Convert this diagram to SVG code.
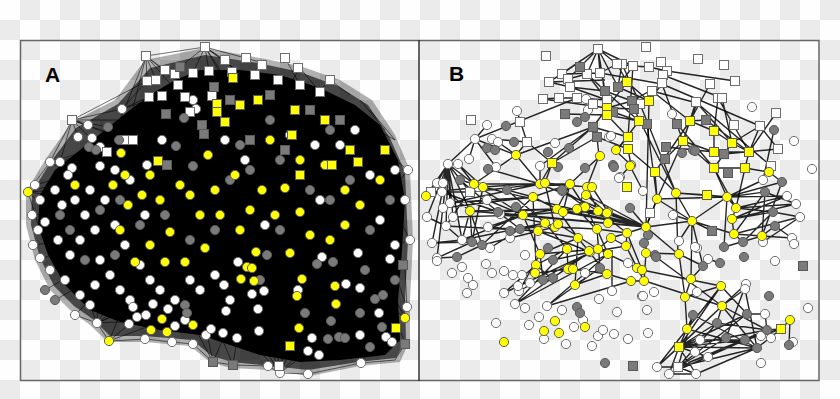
<svg xmlns="http://www.w3.org/2000/svg" width="840" height="399" viewBox="0 0 840 399">
<defs>
<pattern id="cb" width="40" height="40" patternUnits="userSpaceOnUse"><rect width="40" height="40" fill="#fefefe"/><rect x="20" width="20" height="20" fill="#ebebeb"/><rect y="20" width="20" height="20" fill="#ebebeb"/></pattern>
<style>
circle{r:4.6px;stroke-width:1}
rect.n{width:9px;height:9px;transform:translate(-4.5px,-4.5px);stroke-width:1}
.w{fill:#fff;stroke:#6e6e6e}
.g{fill:#7a7a7a;stroke:#595959}
.y{fill:#ffff00;stroke:#5e5e5e}
.ea{fill:none;stroke:#000;stroke-width:0.8;stroke-opacity:0.7}
.eb{fill:none;stroke:#000;stroke-width:1.4;stroke-opacity:0.85}
.lbl{font-family:"Liberation Sans",Arial,sans-serif;font-weight:bold;font-size:21px;fill:#000}
</style>
</defs>
<rect width="840" height="399" fill="url(#cb)"/>
<g id="frame">
<rect x="20.5" y="40.5" width="798.5" height="340" fill="none" stroke="#666" stroke-width="1.5"/>
<line x1="419" y1="40" x2="419" y2="381" stroke="#333" stroke-width="1.5"/>
</g>
<g id="panel-a">
<text class="lbl" x="45" y="82">A</text>
<g id="a-connectors">
<path d="M26,192 L45,160 L72,122 L115,100 L145,60 L205,48 L260,58 L300,66 L340,80 L372,100 L395,135 L410,170 L413,240 L410,300 L410,340 L400,362 L360,366 L310,376 L270,370 L230,368 L210,362 L190,346 L145,342 L108,342 L90,325 L70,310 L50,290 L35,260 L26,225 Z" fill="#000" fill-opacity="0.3"/>
<path d="M32,192 L50,163 L76,128 L118,104 L150,68 L205,55 L258,63 L300,72 L338,86 L368,105 L390,138 L405,172 L408,240 L405,300 L406,340 L396,358 L358,362 L308,370 L272,366 L232,362 L212,356 L192,340 L145,336 L110,336 L94,320 L74,306 L54,286 L40,258 L31,225 Z" fill="#000" fill-opacity="0.6"/>
<path d="M40,195 L55,170 L80,150 L105,130 L130,110 L150,95 L175,80 L200,70 L240,70 L280,75 L320,88 L355,105 L380,125 L398,160 L405,200 L402,250 L398,300 L400,340 L385,355 L340,360 L300,362 L260,355 L230,345 L200,335 L160,330 L120,322 L90,310 L65,285 L48,255 L38,225 Z" fill="#000"/>
<path class="ea" d="M146,56L165,70M146,56L156,80M146,56L147,81M146,56L180,95M146,56L200,100M146,56L205,47M146,56L125,140M146,56L107,152M205,47L180,67M205,47L193,73M205,47L209,71M205,47L230,90M205,47L250,80M205,47L225,60M205,47L260,62M205,47L240,100M205,47L270,95M72,120L122,109M72,120L88,125M72,120L78,137M72,120L100,147M72,120L130,140M72,120L147,81M72,120L108,127M72,120L50,162M72,120L60,162M72,120L125,140M72,120L160,120M122,109L147,81M122,109L149,97M122,109L162,96M28,192L50,162M28,192L60,190M28,192L40,230M28,192L70,180M28,192L90,200M28,192L80,240M97,323L130,300M97,323L120,290M97,323L150,300M97,323L75,315M97,323L109,341M97,323L133,307M97,323L160,320M97,323L100,260M97,323L80,280M109,341L145,339M109,341L140,315M109,341L165,320M109,341L130,290M145,339L172,342M172,342L193,344M193,344L213,362M213,362L233,365M213,362L200,300M213,362L180,300M213,362L240,300M233,365L268,366M233,365L240,320M233,365L210,310M268,366L280,373M280,373L308,374M280,373L260,320M280,373L300,330M280,373L330,320M280,373L290,310M280,373L240,310M280,373L350,320M280,373L230,320M279,366L320,300M279,366L270,300M308,374L361,363M361,363L395,360M361,363L380,330M361,363L340,320M405,344L395,360M405,344L390,300M405,344L360,320M405,318L370,290M405,318L380,270M407,307L390,260M407,307L405,270M403,265L390,240M403,265L380,280M410,240L390,200M410,240L380,250M405,200L385,170M405,200L380,220M408,170L370,140M408,170L385,200M395,140L360,120M395,140L370,110M330,80L350,95M330,80L300,110M300,68L320,92M300,68L280,100M262,65L240,100M285,58L300,85M360,100L385,130M50,162L90,150M50,162L80,180M60,162L100,147M35,185L70,175M32,215L70,210M33,245L70,240M40,258L80,250M50,270L90,260M45,290L80,270M55,300L90,280M75,315L100,290M223,333L260,300M237,338L250,300M312,338L330,300M386,337L370,300M392,342L360,300"/>
</g>
<g id="a-nodes">
<circle class="w" cx="122" cy="109"/><circle class="w" cx="88" cy="125"/><circle class="w" cx="78" cy="137"/><circle class="w" cx="92" cy="138"/><circle class="w" cx="50" cy="162"/><circle class="w" cx="60" cy="162"/><circle class="w" cx="72" cy="168"/><circle class="w" cx="68" cy="175"/><circle class="w" cx="100" cy="147"/><circle class="w" cx="162" cy="140"/><circle class="w" cx="147" cy="165"/><circle class="w" cx="100" cy="166"/><circle class="w" cx="193" cy="100"/><circle class="w" cx="196" cy="109"/>
<circle class="w" cx="35" cy="185"/><circle class="w" cx="40" cy="200"/><circle class="w" cx="32" cy="215"/><circle class="w" cx="38" cy="230"/><circle class="w" cx="33" cy="245"/><circle class="w" cx="40" cy="258"/><circle class="w" cx="50" cy="270"/><circle class="w" cx="45" cy="222"/><circle class="w" cx="55" cy="190"/><circle class="w" cx="62" cy="205"/><circle class="w" cx="58" cy="240"/><circle class="w" cx="70" cy="255"/><circle class="w" cx="65" cy="280"/><circle class="w" cx="80" cy="295"/><circle class="w" cx="90" cy="305"/><circle class="w" cx="75" cy="315"/><circle class="w" cx="85" cy="215"/><circle class="w" cx="95" cy="230"/><circle class="w" cx="80" cy="240"/><circle class="w" cx="100" cy="260"/><circle class="w" cx="110" cy="275"/><circle class="w" cx="95" cy="285"/><circle class="w" cx="120" cy="290"/><circle class="w" cx="130" cy="300"/><circle class="w" cx="115" cy="225"/><circle class="w" cx="125" cy="245"/><circle class="w" cx="140" cy="265"/><circle class="w" cx="150" cy="280"/><circle class="w" cx="105" cy="200"/><circle class="w" cx="90" cy="190"/><circle class="w" cx="75" cy="200"/><circle class="w" cx="130" cy="180"/><circle class="w" cx="115" cy="170"/><circle class="w" cx="145" cy="215"/><circle class="w" cx="160" cy="290"/><circle class="w" cx="175" cy="300"/><circle class="w" cx="200" cy="290"/><circle class="w" cx="215" cy="275"/><circle class="w" cx="190" cy="280"/><circle class="w" cx="230" cy="300"/>
<circle class="w" cx="97" cy="323"/><circle class="w" cx="129" cy="324"/><circle class="w" cx="145" cy="339"/><circle class="w" cx="172" cy="342"/><circle class="w" cx="193" cy="344"/><circle class="w" cx="206" cy="335"/><circle class="w" cx="211" cy="329"/><circle class="w" cx="133" cy="307"/><circle class="w" cx="153" cy="304"/><circle class="w" cx="168" cy="309"/><circle class="w" cx="185" cy="320"/><circle class="w" cx="137" cy="317"/><circle class="w" cx="146" cy="315"/><circle class="w" cx="175" cy="326"/><circle class="w" cx="238" cy="262"/><circle class="w" cx="322" cy="257"/><circle class="w" cx="358" cy="253"/><circle class="w" cx="390" cy="259"/><circle class="w" cx="224" cy="285"/><circle class="w" cx="252" cy="294"/><circle class="w" cx="264" cy="291"/><circle class="w" cx="298" cy="290"/><circle class="w" cx="346" cy="284"/><circle class="w" cx="360" cy="288"/><circle class="w" cx="226" cy="311"/><circle class="w" cx="258" cy="309"/><circle class="w" cx="379" cy="313"/><circle class="w" cx="407" cy="307"/><circle class="w" cx="223" cy="333"/><circle class="w" cx="259" cy="331"/><circle class="w" cx="237" cy="338"/><circle class="w" cx="312" cy="338"/><circle class="w" cx="360" cy="335"/><circle class="w" cx="386" cy="337"/><circle class="w" cx="392" cy="342"/><circle class="w" cx="308" cy="351"/><circle class="w" cx="268" cy="366"/><circle class="w" cx="280" cy="373"/><circle class="w" cx="308" cy="374"/><circle class="w" cx="319" cy="355"/><circle class="w" cx="361" cy="363"/>
<circle class="w" cx="290" cy="135"/><circle class="w" cx="315" cy="145"/><circle class="w" cx="395" cy="170"/><circle class="w" cx="408" cy="170"/><circle class="w" cx="405" cy="200"/><circle class="w" cx="410" cy="240"/><circle class="w" cx="395" cy="245"/><circle class="w" cx="380" cy="220"/><circle class="w" cx="370" cy="175"/><circle class="w" cx="340" cy="145"/><circle class="w" cx="355" cy="130"/><circle class="w" cx="245" cy="160"/><circle class="w" cx="225" cy="140"/><circle class="w" cx="265" cy="225"/><circle class="w" cx="320" cy="200"/>
<rect class="n w" x="146" y="56"/><rect class="n w" x="147" y="81"/><rect class="n w" x="156" y="80"/><rect class="n w" x="165" y="70"/><rect class="n w" x="175" y="74"/><rect class="n w" x="178" y="85"/><rect class="n w" x="162" y="96"/><rect class="n w" x="185" y="97"/><rect class="n w" x="149" y="97"/><rect class="n w" x="125" y="140"/><rect class="n w" x="133" y="140"/><rect class="n w" x="107" y="152"/><rect class="n w" x="193" y="73"/><rect class="n w" x="209" y="71"/><rect class="n w" x="205" y="47"/><rect class="n w" x="72" y="120"/><rect class="n w" x="225" y="60"/><rect class="n w" x="246" y="58"/><rect class="n w" x="262" y="65"/><rect class="n w" x="285" y="58"/><rect class="n w" x="298" y="68"/><rect class="n w" x="232" y="72"/><rect class="n w" x="255" y="75"/><rect class="n w" x="278" y="80"/><rect class="n w" x="300" y="85"/><rect class="n w" x="320" y="92"/><rect class="n w" x="212" y="96"/><rect class="n w" x="190" y="112"/><rect class="n w" x="279" y="366"/><rect class="n w" x="330" y="80"/>
<circle class="g" cx="108" cy="127"/><circle class="g" cx="119" cy="140"/><circle class="g" cx="89" cy="147"/><circle class="g" cx="96" cy="150"/><circle class="g" cx="184" cy="118"/><circle class="g" cx="176" cy="146"/><circle class="g" cx="193" cy="166"/><circle class="g" cx="267" cy="255"/><circle class="g" cx="317" cy="264"/><circle class="g" cx="333" cy="262"/><circle class="g" cx="383" cy="295"/><circle class="g" cx="375" cy="299"/><circle class="g" cx="305" cy="313"/><circle class="g" cx="331" cy="321"/><circle class="g" cx="360" cy="313"/><circle class="g" cx="339" cy="337"/><circle class="g" cx="345" cy="338"/><circle class="g" cx="328" cy="339"/><circle class="g" cx="370" cy="347"/><circle class="g" cx="382" cy="327"/><circle class="g" cx="185" cy="305"/><circle class="g" cx="187" cy="313"/><circle class="g" cx="60" cy="215"/><circle class="g" cx="85" cy="260"/><circle class="g" cx="115" cy="255"/><circle class="g" cx="70" cy="230"/><circle class="g" cx="140" cy="225"/><circle class="g" cx="165" cy="215"/><circle class="g" cx="230" cy="180"/><circle class="g" cx="250" cy="170"/><circle class="g" cx="280" cy="160"/><circle class="g" cx="310" cy="190"/><circle class="g" cx="330" cy="200"/><circle class="g" cx="350" cy="180"/><circle class="g" cx="370" cy="230"/><circle class="g" cx="390" cy="200"/><circle class="g" cx="365" cy="270"/><circle class="g" cx="280" cy="230"/><circle class="g" cx="260" cy="280"/><circle class="g" cx="215" cy="230"/><circle class="g" cx="190" cy="240"/><circle class="g" cx="120" cy="200"/><circle class="g" cx="45" cy="290"/><circle class="g" cx="55" cy="300"/><circle class="g" cx="100" cy="210"/><circle class="g" cx="395" cy="280"/><circle class="g" cx="330" cy="130"/><circle class="g" cx="270" cy="120"/><circle class="g" cx="240" cy="145"/>
<rect class="n g" x="180" y="67"/><rect class="n g" x="214" y="87"/><rect class="n g" x="166" y="114"/><rect class="n g" x="202" y="125"/><rect class="n g" x="204" y="134"/><rect class="n g" x="167" y="165"/><rect class="n g" x="403" y="265"/><rect class="n g" x="233" y="365"/><rect class="n g" x="213" y="362"/><rect class="n g" x="405" y="344"/><rect class="n g" x="230" y="100"/><rect class="n g" x="270" y="95"/><rect class="n g" x="310" y="110"/><rect class="n g" x="340" y="120"/><rect class="n g" x="250" y="140"/><rect class="n g" x="285" y="150"/>
<circle class="y" cx="121" cy="153"/><circle class="y" cx="208" cy="155"/><circle class="y" cx="256" cy="252"/><circle class="y" cx="290" cy="253"/><circle class="y" cx="247" cy="267"/><circle class="y" cx="252" cy="268"/><circle class="y" cx="241" cy="279"/><circle class="y" cx="254" cy="281"/><circle class="y" cx="302" cy="279"/><circle class="y" cx="335" cy="286"/><circle class="y" cx="297" cy="296"/><circle class="y" cx="336" cy="304"/><circle class="y" cx="299" cy="328"/><circle class="y" cx="405" cy="318"/><circle class="y" cx="109" cy="341"/><circle class="y" cx="151" cy="330"/><circle class="y" cx="162" cy="319"/><circle class="y" cx="167" cy="332"/><circle class="y" cx="193" cy="325"/><circle class="y" cx="28" cy="192"/><circle class="y" cx="113" cy="185"/><circle class="y" cx="128" cy="205"/><circle class="y" cx="150" cy="175"/><circle class="y" cx="180" cy="185"/><circle class="y" cx="190" cy="195"/><circle class="y" cx="200" cy="215"/><circle class="y" cx="220" cy="215"/><circle class="y" cx="170" cy="232"/><circle class="y" cx="150" cy="245"/><circle class="y" cx="165" cy="262"/><circle class="y" cx="185" cy="262"/><circle class="y" cx="205" cy="248"/><circle class="y" cx="240" cy="230"/><circle class="y" cx="250" cy="210"/><circle class="y" cx="262" cy="190"/><circle class="y" cx="285" cy="188"/><circle class="y" cx="300" cy="212"/><circle class="y" cx="310" cy="235"/><circle class="y" cx="330" cy="240"/><circle class="y" cx="345" cy="225"/><circle class="y" cx="360" cy="205"/><circle class="y" cx="325" cy="165"/><circle class="y" cx="235" cy="175"/><circle class="y" cx="120" cy="230"/><circle class="y" cx="142" cy="195"/><circle class="y" cx="215" cy="190"/><circle class="y" cx="275" cy="215"/><circle class="y" cx="160" cy="200"/><circle class="y" cx="135" cy="262"/><circle class="y" cx="270" cy="140"/><circle class="y" cx="300" cy="160"/><circle class="y" cx="345" cy="190"/><circle class="y" cx="380" cy="180"/><circle class="y" cx="75" cy="185"/><circle class="y" cx="125" cy="175"/>
<rect class="n y" x="158" y="161"/><rect class="n y" x="217" y="104"/><rect class="n y" x="217" y="112"/><rect class="n y" x="290" y="346"/><rect class="n y" x="396" y="328"/><rect class="n y" x="233" y="78"/><rect class="n y" x="258" y="100"/><rect class="n y" x="240" y="105"/><rect class="n y" x="225" y="122"/><rect class="n y" x="295" y="110"/><rect class="n y" x="325" y="120"/><rect class="n y" x="350" y="150"/><rect class="n y" x="358" y="162"/><rect class="n y" x="332" y="165"/><rect class="n y" x="300" y="175"/><rect class="n y" x="292" y="135"/><rect class="n y" x="385" y="150"/>
</g>
</g>
<g id="panel-b">
<text class="lbl" x="449" y="81">B</text>
<g id="b-connectors">
<path class="eb" d="M598,49L562,74M598,49L568,79M598,49L587,74M598,49L600,73M598,49L580,67M598,49L605,91M598,49L549,82M598,49L617,64M598,49L607,108M598,49L618,87M598,49L633,66M549,82L562,74M562,74L568,79M568,79L587,74M549,82L570,87M570,87L605,91M543,99L559,98M559,98L577,98M577,98L607,100M577,98L593,104M570,87L607,100M562,74L600,73M600,73L617,64M617,64L633,66M633,66L649,67M633,66L618,87M649,67L667,71M622,64L618,87M549,82L605,80M580,67L605,91M587,74L607,100M600,73L662,84M622,64L640,104M633,66L628,137M617,64L627,82M627,82L649,101M627,82L607,108M618,87L649,101M605,91L640,104M605,91L639,121M607,108L632,101M607,108L634,109M607,108L593,127M607,115L639,121M607,115L628,137M607,115L565,114M593,127L628,137M597,137L628,149M597,137L599,156M613,112L647,124M632,101L662,84M649,101L662,84M649,101L667,71M649,101L646,227M639,121L616,151M628,137L616,151M628,149L631,165M662,84L760,126M652,91L697,103M667,71L735,81M663,75L722,98M697,103L771,166M577,98L475,139M543,99L607,108"/>
<path class="eb" d="M690,121L714,131M690,121L697,103M690,121L706,120M690,121L683,141M690,121L655,172M714,131L732,143M714,131L718,98M714,131L714,152M732,143L749,152M732,143L722,98M732,143L760,126M732,143L714,168M714,152L749,152M714,152L683,141M749,152L760,126M749,152L745,168M745,168L714,168M714,168L683,141M714,168L727,197M745,168L736,208M706,120L749,152M697,103L732,143M718,98L749,152M683,141L657,199M683,141L665,159M666,147L714,152M677,124L714,168M760,126L778,149M776,113L749,152M724,154L778,149M710,84L690,121M696,102L683,141M662,84L683,141M652,91L690,121M647,124L657,199M634,109L676,193M640,104L676,193M655,172L657,199M655,172L676,193M676,193L692,221M657,199L646,227M657,199L692,221M676,193L727,197M676,193L707,195M707,195L727,197M676,193L678,254M692,221L691,279M692,221L703,266"/>
<path class="eb" d="M593,127L540,166M593,127L516,155M597,137L552,163M552,163L593,127M527,142L552,163M527,142L516,155M475,139L448,164M475,139L469,159M475,139L496,167M475,139L516,155M492,139L527,142M498,142L516,155M516,155L474,184M516,155L540,184M552,163L545,183M552,163L540,184M540,166L540,184M487,125L475,139M517,111L527,142M599,156L587,187M600,156L570,184M448,164L437,183M448,164L443,183M448,164L442,192M448,164L450,203M448,164L443,208M448,164L446,226M448,164L453,217M448,164L427,217M448,164L432,243M448,164L437,258M448,164L426,196M448,164L431,192M448,164L470,192M448,164L474,184M448,164L462,240M458,164L474,184M458,164L483,187M448,164L470,211M426,196L431,192M431,192L470,192M431,192L483,187"/>
<path class="eb" d="M470,192L540,184M474,184L540,184M483,187L545,183M474,184L523,215M470,211L523,215M470,211L557,209M470,211L646,227M483,187L646,227M450,203L540,184M443,208L533,197M453,217L523,215M446,226L538,231M462,240L523,215M462,240L545,223M482,245L533,197M472,242L470,211M470,211L462,240M470,211L482,245M474,184L446,226M483,187L472,242M437,183L470,211M442,192L498,212M450,203L487,200M487,200L533,197M487,200L523,215M498,212L557,209M488,227L523,215M488,227L538,231M500,214L545,223M510,231L545,223M510,238L555,227M520,229L558,224M523,215L557,209M523,215L563,212M533,197L557,209M533,197L570,184M540,184L570,184M545,183L587,187M540,184L592,187M570,184L585,207M587,187L598,211M592,187L608,212M585,207L597,229M557,209L598,211M563,212L608,212M557,209L578,238M555,227L597,229M558,224L598,249M545,223L567,249M538,231L590,252M538,231L578,238M540,254L578,238M536,265L567,249M540,254L598,249M523,215L540,254M533,197L536,265M545,183L555,227M570,184L557,209M570,184L563,212M587,187L577,209M586,195L607,213M577,209L597,230M597,229L608,254M611,238L598,249M627,233L597,229M626,246L590,252M608,223L646,227M598,211L646,227M557,209L646,227M563,212L646,227M540,184L646,227M523,215L646,227M577,209L646,227M607,213L646,227M586,195L646,227M646,227L657,199M646,227L692,221M646,227L678,254M646,227L646,253M646,227L627,233M646,227L611,238M646,227L630,208M627,233L626,246M611,238L626,246M598,211L627,233M462,240L482,245M446,226L462,240M432,243L462,240M437,258L457,257M457,257L482,245M432,243L472,242M427,217L446,226M437,258L472,242M482,245L510,238M490,248L520,229M498,212L520,229M507,190L533,197M488,169L540,184M460,180L474,184M460,180L498,212M507,190L545,223M562,190L585,207M562,190L598,211"/>
<path class="eb" d="M598,249L519,291M598,249L504,293M590,252L515,304M608,254L515,304M567,249L515,304M600,268L547,306M608,254L547,306M631,281L547,306M612,250L612,291M598,249L608,254M590,252L598,249M567,249L568,269M568,269L573,269M573,269L607,274M607,274L631,281M631,281L644,281M637,268L642,270M637,268L608,254M607,274L575,285M575,285L600,268M536,265L535,273M535,273L568,269M540,254L543,280M536,265L553,280M578,238L575,285M578,238L607,274M626,246L637,268M626,246L644,281M627,233L642,270M536,265L504,293M540,254L519,291M553,260L590,252M553,278L590,252M597,229L600,268M646,253L679,254M646,253L644,281M679,254L703,266M679,254L685,297M656,257L722,306M645,281L722,306M642,270L721,286M708,259L720,263M691,279L703,266M685,297L691,279"/>
<path class="eb" d="M679,347L657,367M679,347L669,374M679,347L696,374M679,347L708,357M679,347L700,340M679,347L726,338M679,347L745,340M679,347L757,348M679,347L747,314M679,347L717,323M679,347L767,330M679,347L687,329M679,347L722,306M679,347L693,315M679,347L721,286M678,367L745,340M678,367L757,348M678,367L726,338M678,367L747,314M678,367L767,330M678,367L717,323M678,367L693,315M678,367L696,374M678,367L657,367M657,367L687,329M657,367L722,306M657,367L721,286M669,374L745,340M696,374L757,348M722,306L746,284M722,306L745,289M722,306L767,330M722,306L757,348M721,286L747,314M721,286L685,297M685,297L687,329M687,329L757,348M687,329L693,315M781,329L767,330M781,329L761,336M781,329L745,340M781,329L757,348M790,320L789,345M790,320L781,329M747,314L765,314M745,289L757,348M746,284L726,338M717,323L767,330M745,340L767,330M693,315L757,348M726,338L767,330M669,374L696,374M700,340L745,340M765,314L767,330M722,306L717,323"/>
<path class="eb" d="M727,197L736,208M727,197L763,180M736,208L732,219M732,219L734,234M734,234L762,236M762,236L775,226M762,236L792,238M736,208L773,212M736,208L787,196M736,208L796,204M732,219L787,196M732,219L796,204M732,219L773,212M734,234L765,192M734,234L800,217M762,236L765,192M762,236L782,182M765,192L796,204M773,212L800,217M775,226L792,238M763,242L800,217M727,197L765,192M727,197L782,182M724,247L762,236M743,242L734,234M743,242L773,212M763,180L774,130M769,172L782,182M714,168L736,208M692,221L727,197M692,221L734,234M692,221L712,231M692,221L679,241M692,221L673,215M657,199L727,197M727,197L724,247M745,168L769,172M727,197L787,196M616,151L631,165M630,166L643,191M620,177L631,165M628,149L655,172"/>
</g>
<g id="b-nodes">
<circle class="w" cx="586" cy="99"/><circle class="w" cx="588" cy="110"/><circle class="w" cx="517" cy="111"/><circle class="w" cx="487" cy="125"/><circle class="w" cx="475" cy="139"/><circle class="w" cx="492" cy="139"/><circle class="w" cx="555" cy="143"/><circle class="w" cx="448" cy="164"/><circle class="w" cx="458" cy="164"/><circle class="w" cx="469" cy="159"/><circle class="w" cx="609" cy="137"/><circle class="w" cx="496" cy="167"/><circle class="w" cx="540" cy="166"/><circle class="w" cx="672" cy="114"/><circle class="w" cx="752" cy="107"/><circle class="w" cx="611" cy="136"/><circle class="w" cx="794" cy="141"/><circle class="w" cx="812" cy="169"/><circle class="w" cx="620" cy="177"/><circle class="w" cx="643" cy="191"/><circle class="w" cx="673" cy="215"/><circle class="w" cx="763" cy="180"/><circle class="w" cx="787" cy="196"/><circle class="w" cx="796" cy="204"/><circle class="w" cx="800" cy="217"/><circle class="w" cx="763" cy="242"/><circle class="w" cx="792" cy="238"/><circle class="w" cx="794" cy="244"/><circle class="w" cx="679" cy="241"/><circle class="w" cx="697" cy="248"/><circle class="w" cx="437" cy="183"/><circle class="w" cx="443" cy="183"/><circle class="w" cx="442" cy="192"/><circle class="w" cx="450" cy="203"/><circle class="w" cx="443" cy="208"/><circle class="w" cx="446" cy="226"/><circle class="w" cx="453" cy="217"/><circle class="w" cx="427" cy="217"/><circle class="w" cx="432" cy="243"/><circle class="w" cx="437" cy="258"/><circle class="w" cx="462" cy="240"/><circle class="w" cx="487" cy="200"/><circle class="w" cx="488" cy="227"/><circle class="w" cx="478" cy="187"/><circle class="w" cx="500" cy="214"/><circle class="w" cx="490" cy="248"/><circle class="w" cx="510" cy="238"/><circle class="w" cx="525" cy="255"/><circle class="w" cx="498" cy="142"/><circle class="w" cx="619" cy="178"/><circle class="w" cx="562" cy="191"/><circle class="w" cx="695" cy="247"/><circle class="w" cx="708" cy="259"/><circle class="w" cx="628" cy="263"/><circle class="w" cx="585" cy="273"/><circle class="w" cx="437" cy="261"/><circle class="w" cx="452" cy="273"/><circle class="w" cx="462" cy="267"/><circle class="w" cx="468" cy="278"/><circle class="w" cx="473" cy="285"/><circle class="w" cx="467" cy="293"/><circle class="w" cx="486" cy="264"/><circle class="w" cx="492" cy="273"/><circle class="w" cx="504" cy="293"/><circle class="w" cx="515" cy="304"/><circle class="w" cx="496" cy="323"/><circle class="w" cx="529" cy="325"/><circle class="w" cx="519" cy="291"/><circle class="w" cx="525" cy="308"/><circle class="w" cx="539" cy="317"/><circle class="w" cx="547" cy="306"/><circle class="w" cx="562" cy="310"/><circle class="w" cx="574" cy="327"/><circle class="w" cx="583" cy="320"/><circle class="w" cx="599" cy="299"/><circle class="w" cx="612" cy="291"/><circle class="w" cx="544" cy="339"/><circle class="w" cx="566" cy="344"/><circle class="w" cx="592" cy="346"/><circle class="w" cx="598" cy="336"/><circle class="w" cx="603" cy="330"/><circle class="w" cx="614" cy="334"/><circle class="w" cx="628" cy="339"/><circle class="w" cx="617" cy="312"/><circle class="w" cx="642" cy="296"/><circle class="w" cx="647" cy="310"/><circle class="w" cx="648" cy="333"/><circle class="w" cx="504" cy="271"/><circle class="w" cx="513" cy="275"/><circle class="w" cx="518" cy="286"/><circle class="w" cx="522" cy="275"/><circle class="w" cx="530" cy="283"/><circle class="w" cx="775" cy="261"/><circle class="w" cx="746" cy="284"/><circle class="w" cx="745" cy="289"/><circle class="w" cx="697" cy="292"/><circle class="w" cx="654" cy="292"/><circle class="w" cx="643" cy="296"/><circle class="w" cx="765" cy="314"/><circle class="w" cx="761" cy="336"/><circle class="w" cx="771" cy="338"/><circle class="w" cx="793" cy="342"/><circle class="w" cx="808" cy="308"/><circle class="w" cx="761" cy="363"/><circle class="w" cx="657" cy="367"/><circle class="w" cx="669" cy="374"/><circle class="w" cx="696" cy="374"/><circle class="w" cx="708" cy="357"/><circle class="w" cx="700" cy="340"/><circle class="w" cx="695" cy="352"/>
<rect class="n w" x="598" y="49"/><rect class="n w" x="646" y="47"/><rect class="n w" x="546" y="56"/><rect class="n w" x="698" y="59"/><rect class="n w" x="724" y="65"/><rect class="n w" x="661" y="62"/><rect class="n w" x="622" y="64"/><rect class="n w" x="617" y="64"/><rect class="n w" x="633" y="66"/><rect class="n w" x="649" y="67"/><rect class="n w" x="667" y="71"/><rect class="n w" x="663" y="75"/><rect class="n w" x="735" y="81"/><rect class="n w" x="710" y="84"/><rect class="n w" x="662" y="83"/><rect class="n w" x="652" y="91"/><rect class="n w" x="696" y="102"/><rect class="n w" x="718" y="98"/><rect class="n w" x="722" y="98"/><rect class="n w" x="562" y="74"/><rect class="n w" x="568" y="79"/><rect class="n w" x="587" y="74"/><rect class="n w" x="600" y="73"/><rect class="n w" x="549" y="82"/><rect class="n w" x="570" y="87"/><rect class="n w" x="543" y="99"/><rect class="n w" x="559" y="98"/><rect class="n w" x="577" y="98"/><rect class="n w" x="593" y="104"/><rect class="n w" x="471" y="120"/><rect class="n w" x="520" y="122"/><rect class="n w" x="527" y="142"/><rect class="n w" x="607" y="100"/><rect class="n w" x="640" y="104"/><rect class="n w" x="760" y="126"/><rect class="n w" x="776" y="113"/><rect class="n w" x="778" y="149"/><rect class="n w" x="771" y="166"/><rect class="n w" x="650" y="213"/><rect class="n w" x="734" y="125"/><rect class="n w" x="431" y="192"/><rect class="n w" x="470" y="192"/><rect class="n w" x="678" y="367"/>
<circle class="g" cx="506" cy="126"/><circle class="g" cx="514" cy="142"/><circle class="g" cx="487" cy="148"/><circle class="g" cx="495" cy="150"/><circle class="g" cx="577" cy="122"/><circle class="g" cx="548" cy="152"/><circle class="g" cx="569" cy="148"/><circle class="g" cx="585" cy="168"/><circle class="g" cx="558" cy="167"/><circle class="g" cx="613" cy="165"/><circle class="g" cx="693" cy="150"/><circle class="g" cx="682" cy="153"/><circle class="g" cx="614" cy="167"/><circle class="g" cx="630" cy="208"/><circle class="g" cx="695" cy="151"/><circle class="g" cx="774" cy="130"/><circle class="g" cx="782" cy="182"/><circle class="g" cx="765" cy="192"/><circle class="g" cx="773" cy="212"/><circle class="g" cx="775" cy="226"/><circle class="g" cx="724" cy="247"/><circle class="g" cx="743" cy="242"/><circle class="g" cx="648" cy="235"/><circle class="g" cx="655" cy="255"/><circle class="g" cx="460" cy="180"/><circle class="g" cx="482" cy="245"/><circle class="g" cx="472" cy="242"/><circle class="g" cx="457" cy="257"/><circle class="g" cx="520" cy="229"/><circle class="g" cx="516" cy="207"/><circle class="g" cx="548" cy="248"/><circle class="g" cx="498" cy="212"/><circle class="g" cx="510" cy="231"/><circle class="g" cx="507" cy="190"/><circle class="g" cx="488" cy="169"/><circle class="g" cx="562" cy="190"/><circle class="g" cx="600" cy="268"/><circle class="g" cx="553" cy="260"/><circle class="g" cx="553" cy="278"/><circle class="g" cx="656" cy="257"/><circle class="g" cx="703" cy="266"/><circle class="g" cx="720" cy="263"/><circle class="g" cx="744" cy="257"/><circle class="g" cx="769" cy="296"/><circle class="g" cx="693" cy="315"/><circle class="g" cx="717" cy="323"/><circle class="g" cx="747" cy="314"/><circle class="g" cx="726" cy="338"/><circle class="g" cx="745" cy="340"/><circle class="g" cx="757" cy="348"/><circle class="g" cx="767" cy="330"/><circle class="g" cx="789" cy="345"/><circle class="g" cx="605" cy="363"/><circle class="g" cx="577" cy="307"/><circle class="g" cx="580" cy="313"/><circle class="g" cx="543" cy="280"/><circle class="g" cx="585" cy="117"/><circle class="g" cx="644" cy="243"/>
<rect class="n g" x="580" y="67"/><rect class="n g" x="605" y="91"/><rect class="n g" x="565" y="114"/><rect class="n g" x="593" y="127"/><rect class="n g" x="597" y="137"/><rect class="n g" x="618" y="87"/><rect class="n g" x="632" y="101"/><rect class="n g" x="613" y="112"/><rect class="n g" x="647" y="124"/><rect class="n g" x="677" y="124"/><rect class="n g" x="706" y="120"/><rect class="n g" x="666" y="147"/><rect class="n g" x="724" y="154"/><rect class="n g" x="665" y="159"/><rect class="n g" x="634" y="109"/><rect class="n g" x="728" y="173"/><rect class="n g" x="712" y="231"/><rect class="n g" x="803" y="266"/><rect class="n g" x="633" y="366"/>
<circle class="y" cx="516" cy="155"/><circle class="y" cx="600" cy="156"/><circle class="y" cx="616" cy="150"/><circle class="y" cx="631" cy="165"/><circle class="y" cx="426" cy="196"/><circle class="y" cx="474" cy="184"/><circle class="y" cx="483" cy="187"/><circle class="y" cx="470" cy="211"/><circle class="y" cx="540" cy="184"/><circle class="y" cx="545" cy="183"/><circle class="y" cx="533" cy="197"/><circle class="y" cx="523" cy="215"/><circle class="y" cx="538" cy="231"/><circle class="y" cx="545" cy="223"/><circle class="y" cx="557" cy="209"/><circle class="y" cx="563" cy="212"/><circle class="y" cx="555" cy="227"/><circle class="y" cx="558" cy="224"/><circle class="y" cx="570" cy="184"/><circle class="y" cx="587" cy="187"/><circle class="y" cx="592" cy="187"/><circle class="y" cx="585" cy="207"/><circle class="y" cx="598" cy="211"/><circle class="y" cx="608" cy="212"/><circle class="y" cx="597" cy="229"/><circle class="y" cx="578" cy="238"/><circle class="y" cx="567" cy="249"/><circle class="y" cx="590" cy="252"/><circle class="y" cx="598" cy="249"/><circle class="y" cx="540" cy="254"/><circle class="y" cx="536" cy="265"/><circle class="y" cx="586" cy="195"/><circle class="y" cx="577" cy="209"/><circle class="y" cx="607" cy="213"/><circle class="y" cx="608" cy="223"/><circle class="y" cx="611" cy="238"/><circle class="y" cx="627" cy="233"/><circle class="y" cx="626" cy="246"/><circle class="y" cx="589" cy="251"/><circle class="y" cx="608" cy="254"/><circle class="y" cx="646" cy="227"/><circle class="y" cx="657" cy="199"/><circle class="y" cx="676" cy="193"/><circle class="y" cx="692" cy="221"/><circle class="y" cx="646" cy="253"/><circle class="y" cx="679" cy="254"/><circle class="y" cx="637" cy="268"/><circle class="y" cx="642" cy="270"/><circle class="y" cx="607" cy="274"/><circle class="y" cx="568" cy="269"/><circle class="y" cx="573" cy="269"/><circle class="y" cx="631" cy="281"/><circle class="y" cx="644" cy="281"/><circle class="y" cx="691" cy="279"/><circle class="y" cx="630" cy="166"/><circle class="y" cx="575" cy="285"/><circle class="y" cx="504" cy="342"/><circle class="y" cx="544" cy="331"/><circle class="y" cx="559" cy="333"/><circle class="y" cx="555" cy="321"/><circle class="y" cx="585" cy="327"/><circle class="y" cx="535" cy="273"/><circle class="y" cx="685" cy="297"/><circle class="y" cx="721" cy="286"/><circle class="y" cx="722" cy="306"/><circle class="y" cx="687" cy="329"/><circle class="y" cx="790" cy="320"/><circle class="y" cx="727" cy="197"/><circle class="y" cx="736" cy="208"/><circle class="y" cx="732" cy="219"/><circle class="y" cx="734" cy="234"/><circle class="y" cx="762" cy="236"/><circle class="y" cx="769" cy="172"/>
<rect class="n y" x="552" y="163"/><rect class="n y" x="607" y="108"/><rect class="n y" x="607" y="115"/><rect class="n y" x="627" y="82"/><rect class="n y" x="649" y="101"/><rect class="n y" x="639" y="121"/><rect class="n y" x="628" y="137"/><rect class="n y" x="628" y="149"/><rect class="n y" x="690" y="121"/><rect class="n y" x="714" y="131"/><rect class="n y" x="683" y="141"/><rect class="n y" x="732" y="143"/><rect class="n y" x="714" y="152"/><rect class="n y" x="749" y="152"/><rect class="n y" x="745" y="168"/><rect class="n y" x="714" y="168"/><rect class="n y" x="655" y="172"/><rect class="n y" x="627" y="187"/><rect class="n y" x="707" y="195"/><rect class="n y" x="679" y="347"/><rect class="n y" x="781" y="329"/>
</g>
</g>
</svg>
